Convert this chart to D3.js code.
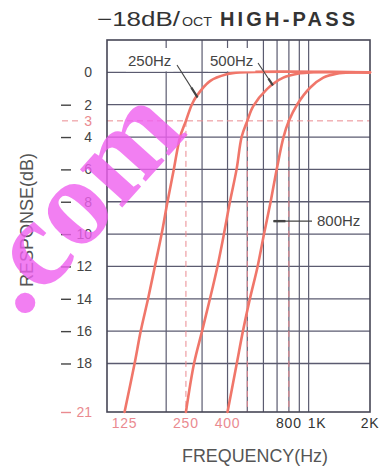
<!DOCTYPE html>
<html>
<head>
<meta charset="utf-8">
<script src="https://cdn.jsdelivr.net/npm/d3@7/dist/d3.min.js"></script>
<style>
  html, body { margin: 0; padding: 0; background: #fff; }
  svg { display: block; }
</style>
</head>
<body>
<script>
// Response grid: dB rows and frequency columns
const dbRows = [0, -2, -4, -6, -8, -10, -12, -14, -16, -18];
const freqColumns = [200, 300, 400, 500, 600, 700, 800, 900, 1000];
const cutoffFreqs = [250, 500, 800];
const cutoffLevel = -3;

// Bottom axis labels: [frequency, text, highlighted]
const freqLabels = [[125, "125", true], [250, "250", true], [400, "400", true],
                    [800, "800", false], [1000, "1K", false], [2000, "2K", false]];

// Filter responses, [frequency Hz, level dB]
const resp250 = [[125, -21], [140, -18], [150, -16], [163, -14], [176, -12], [190, -10],
                 [203, -8], [218, -6], [234, -4], [250, -3], [267, -2], [282, -1.47],
                 [328, -0.54], [396, -0.12], [460, 0], [2000, 0]];
const resp500 = [[250, -21], [274, -18], [300, -16], [328, -14], [357, -12], [384, -10],
                 [411, -8], [443, -6], [469, -4], [500, -3], [535, -2.09], [623, -1.05],
                 [751, -0.33], [907, -0.06], [1016, 0], [2000, 0]];
const resp800 = [[400, -21], [444, -18], [476, -16], [515, -14], [562, -12], [604, -10],
                 [651, -8], [697, -6], [753, -4], [800, -3], [877, -2], [1016, -0.95],
                 [1180, -0.33], [1373, -0.08], [1596, 0], [2000, 0]];

const W = 390, H = 468;
const svg = d3.select("body").append("svg").attr("width", W).attr("height", H);

const x = d3.scaleLog().domain([102.5, 2000]).range([107, 370]);
const y = d3.scaleLinear().domain([-21, 2]).range([412, 40]);
const [fMin, fMax] = x.domain();

const gridColor = "#5b5b70";
const curveColor = "#f0766a";
const pink = "#ea8a90";
const textColor = "#444";
const sans = "Liberation Sans, Arial, sans-serif";

// grid
const grid = svg.append("g");
grid.selectAll("line.h").data(dbRows).join("line")
  .attr("x1", x(fMin)).attr("x2", x(fMax))
  .attr("y1", d => y(d)).attr("y2", d => y(d))
  .attr("stroke", gridColor).attr("stroke-width", 1.3);
grid.selectAll("line.v").data(freqColumns).join("line")
  .attr("x1", d => x(d)).attr("x2", d => x(d))
  .attr("y1", y(2)).attr("y2", y(-21))
  .attr("stroke", gridColor).attr("stroke-width", 1.2);

// -3 dB guides
const guides = svg.append("g").attr("stroke", pink).attr("stroke-width", 1)
  .attr("stroke-dasharray", "6,4").attr("fill", "none");
guides.append("line")
  .attr("x1", 62).attr("x2", 80)
  .attr("y1", y(cutoffLevel)).attr("y2", y(cutoffLevel));
guides.append("line")
  .attr("x1", x(fMin)).attr("x2", x(fMax))
  .attr("y1", y(cutoffLevel)).attr("y2", y(cutoffLevel));
guides.selectAll("line.c").data(cutoffFreqs).join("line")
  .attr("x1", d => x(d)).attr("x2", d => x(d))
  .attr("y1", y(cutoffLevel)).attr("y2", y(-21));

// frame
svg.append("rect")
  .attr("x", x(fMin)).attr("y", y(2))
  .attr("width", x(fMax) - x(fMin)).attr("height", y(-21) - y(2))
  .attr("fill", "none").attr("stroke", "#464656").attr("stroke-width", 1.6);

// response curves
const line = d3.line().x(d => x(d[0])).y(d => y(d[1])).curve(d3.curveCatmullRom.alpha(0.5));
svg.append("g").selectAll("path").data([resp250, resp500, resp800]).join("path")
  .attr("d", line).attr("fill", "none")
  .attr("stroke", curveColor).attr("stroke-width", 2.6).attr("stroke-linecap", "round");

// y tick labels
const yl = svg.append("g").attr("font-family", sans).attr("font-size", 14);
const yLabels = dbRows.concat([cutoffLevel, -21]);
yLabels.forEach(d => {
  const hi = (d === cutoffLevel || d === -21);
  const col = hi ? pink : textColor;
  yl.append("text").attr("x", 92).attr("y", y(d) + 5).attr("text-anchor", "end")
    .attr("fill", col).text(String(Math.abs(d)));
  if (d < 0 && d !== cutoffLevel) {
    yl.append("line").attr("x1", 61).attr("x2", 71)
      .attr("y1", y(d) + 0.5).attr("y2", y(d) + 0.5)
      .attr("stroke", col).attr("stroke-width", 1.4);
  }
});

// x tick labels
svg.append("g").selectAll("text").data(freqLabels).join("text")
  .attr("x", d => d[0] === 1000 ? x(d[0]) - 1 : x(d[0]))
  .attr("y", 428)
  .attr("text-anchor", d => d[0] === 1000 ? "start" : "middle")
  .attr("font-family", sans).attr("font-size", 14).attr("letter-spacing", 0.8)
  .attr("fill", d => d[2] ? pink : "#333").text(d => d[1]);

// axis titles
svg.append("text").attr("x", 255).attr("y", 462).attr("text-anchor", "middle")
  .attr("font-family", sans).attr("font-size", 18)
  .attr("fill", "#555").attr("textLength", 146).attr("lengthAdjust", "spacingAndGlyphs")
  .text("FREQUENCY(Hz)");
svg.append("text").attr("transform", "translate(33,220) rotate(-90)")
  .attr("text-anchor", "middle")
  .attr("font-family", sans).attr("font-size", 18)
  .attr("fill", "#555").attr("textLength", 134).attr("lengthAdjust", "spacingAndGlyphs")
  .text("RESPONSE(dB)");

// title
svg.append("text").attr("x", 97).attr("y", 26).attr("font-family", sans).attr("font-size", 20)
  .attr("fill", "#333").attr("textLength", 83).attr("lengthAdjust", "spacingAndGlyphs")
  .text("\u221218dB/");
svg.append("text").attr("x", 182).attr("y", 26).attr("font-family", sans).attr("font-size", 12.5)
  .attr("fill", "#333").attr("textLength", 30).attr("lengthAdjust", "spacingAndGlyphs")
  .text("OCT");
svg.append("text").attr("x", 220).attr("y", 26).attr("font-family", sans).attr("font-size", 20)
  .attr("font-weight", "bold").attr("fill", "#333")
  .attr("textLength", 135).attr("lengthAdjust", "spacing").text("HIGH-PASS");

// curve callouts
const ann = svg.append("g").attr("font-family", sans).attr("font-size", 15).attr("fill", textColor);
function callout(label, tx, ty, x0, y0, x1, y1) {
  const t = ann.append("text").attr("x", tx).attr("y", ty).text(label);
  const bb = t.node().getBBox();
  ann.insert("rect", "text").attr("x", bb.x - 2).attr("y", y(2) + 8)
    .attr("width", bb.width + 4).attr("height", y(0) - y(2) - 9).attr("fill", "#fff");
  ann.append("line").attr("x1", x0).attr("y1", y0).attr("x2", x1).attr("y2", y1)
    .attr("stroke", "#444").attr("stroke-width", 1.1);
  const fx = x0 + (x1 - x0) * 0.7, fy = y0 + (y1 - y0) * 0.7;
  ann.append("line").attr("x1", fx).attr("y1", fy).attr("x2", x1).attr("y2", y1)
    .attr("stroke", "#444").attr("stroke-width", 2.2);
}
callout("250Hz", 128, 66, 177, 65, x(285), y(-1.55));
callout("500Hz", 210, 66, 258, 63, x(668), y(-0.8));

ann.append("text").attr("x", 317).attr("y", 226).text("800Hz");
ann.append("line").attr("x1", 312).attr("x2", x(672)).attr("y1", y(-9.2)).attr("y2", y(-9.2))
  .attr("stroke", "#444").attr("stroke-width", 1.1);
ann.append("line").attr("x1", x(672) + 12).attr("x2", x(672)).attr("y1", y(-9.2)).attr("y2", y(-9.2))
  .attr("stroke", "#444").attr("stroke-width", 2.4);

// site mark
svg.append("text").attr("transform", "translate(21,320) rotate(-48)")
  .attr("font-family", "Liberation Serif, Times New Roman, serif").attr("font-weight", "bold")
  .attr("font-size", 124).attr("fill", "#f060f0").attr("opacity", 0.8)
  .text(".com");
</script>
</body>
</html>
